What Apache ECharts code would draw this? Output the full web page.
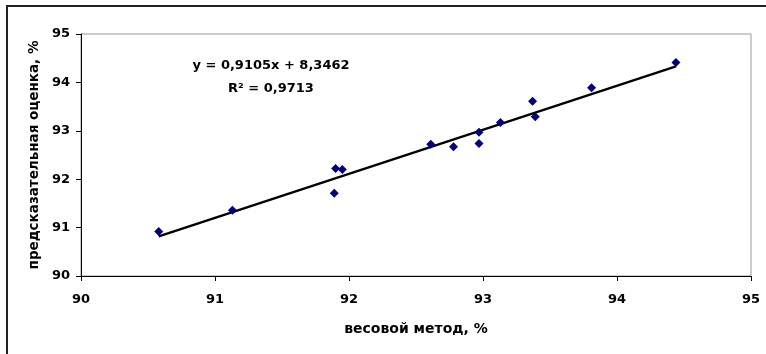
<!DOCTYPE html>
<html>
<head>
<meta charset="utf-8">
<script src="https://cdn.jsdelivr.net/npm/echarts@6/dist/echarts.min.js"></script>
<style>
  html, body { margin: 0; padding: 0; background: #fff; }
  #chart { width: 766px; height: 354px; }
</style>
</head>
<body>
<div id="chart"></div>
<script>
// measured points (весовой метод vs предсказательная оценка)
const xVals = [90.58, 91.13, 91.89, 91.90, 91.95, 92.61, 92.78, 92.97, 92.97, 93.13, 93.37, 93.39, 93.81, 94.44];
const yVals = [90.92, 91.36, 91.71, 92.22, 92.20, 92.72, 92.67, 92.97, 92.74, 93.17, 93.61, 93.29, 93.89, 94.41];

// linear trend endpoints, as drawn
const trendX = [90.58, 94.44];
const trendY = [90.82, 94.33];

const eqText = 'y = 0,9105x + 8,3462';
const r2Text = 'R² = 0,9713';
const xTitle = 'весовой метод, %';
const yTitle = 'предсказательная оценка, %';

const FONT = 'DejaVu Sans';

const chart = echarts.init(document.getElementById('chart'), null, {renderer: 'canvas'});

const points = xVals.map((x, i) => [x, yVals[i]]);
const trend = trendX.map((x, i) => [x, trendY[i]]);

const axisCommon = {
    type: 'value',
    min: 90,
    max: 95,
    interval: 1,
    splitLine: {show: false},
    axisLine: {show: true, lineStyle: {color: '#000', width: 1}},
    axisTick: {show: true, inside: false, length: 5, lineStyle: {color: '#000'}},
    nameLocation: 'middle',
    nameTextStyle: {fontFamily: FONT, fontWeight: 'bold', fontSize: 14, color: '#000'}
};

chart.setOption({
    animation: false,
    backgroundColor: '#fff',
    grid: {
        left: 81, top: 34, right: 15, bottom: 78,
        show: true, borderColor: '#999', borderWidth: 1
    },
    xAxis: Object.assign({}, axisCommon, {
        name: xTitle,
        nameGap: 46,
        axisLabel: {fontFamily: FONT, fontWeight: 'bold', fontSize: 13, color: '#000', margin: 17}
    }),
    yAxis: Object.assign({}, axisCommon, {
        name: yTitle,
        nameGap: 38,
        nameTextStyle: {fontFamily: FONT, fontWeight: 'bold', fontSize: 13.5, color: '#000'},
        axisLabel: {fontFamily: FONT, fontWeight: 'bold', fontSize: 13, color: '#000', margin: 11}
    }),
    graphic: [
        {
            type: 'rect', silent: true, z: 100,
            shape: {x: 7, y: 6, width: 800, height: 400},
            style: {fill: 'none', stroke: '#222', lineWidth: 2}
        },
        {
            type: 'text', x: 271, y: 66, z: 100,
            style: {text: eqText, fontFamily: FONT, fontWeight: 'bold', fontSize: 13,
                    fill: '#000', textAlign: 'center', textVerticalAlign: 'middle'}
        },
        {
            type: 'text', x: 271, y: 89, z: 100,
            style: {text: r2Text, fontFamily: FONT, fontWeight: 'bold', fontSize: 13,
                    fill: '#000', textAlign: 'center', textVerticalAlign: 'middle'}
        }
    ],
    series: [
        {
            type: 'line',
            data: trend,
            symbol: 'none',
            lineStyle: {color: '#000', width: 2.3},
            z: 2
        },
        {
            type: 'scatter',
            data: points,
            symbol: 'diamond',
            symbolSize: 9,
            itemStyle: {color: '#000080', opacity: 1},
            z: 3
        }
    ]
});
</script>
</body>
</html>
